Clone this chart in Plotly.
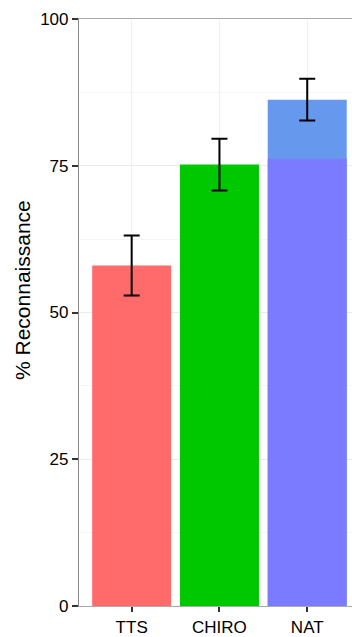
import plotly.graph_objects as go

categories = ["TTS", "CHIRO", "NAT"]
values = [58.0, 75.2, 86.25]
errors = [5.1, 4.4, 3.55]
nat_base = [None, None, 76.2]
bar_colors = ["#FF6B6B", "#00C800", "#6699EE"]
y_ticks = [0, 25, 50, 75, 100]
y_title = "% Reconnaissance"

W, H = 352, 637
ML, MR, MT, MB = 79, 0, 19, 31

fig = go.Figure()
fig.add_trace(go.Bar(
    x=categories, y=values, width=0.9,
    marker=dict(color=bar_colors, line=dict(width=0)),
    error_y=dict(type="data", array=errors, visible=True,
                 color="black", thickness=2, width=8),
    showlegend=False,
))
fig.add_trace(go.Bar(
    x=categories, y=nat_base, width=0.9,
    marker=dict(color="#7B7BFF", line=dict(width=0)),
    showlegend=False,
))

fig.update_layout(
    width=W, height=H,
    margin=dict(l=ML, r=MR, t=MT, b=MB, autoexpand=False),
    barmode="overlay",
    plot_bgcolor="white", paper_bgcolor="white",
    font=dict(family="Liberation Sans, Arial, sans-serif", color="black"),
    annotations=[dict(
        text=y_title, textangle=-90, showarrow=False,
        xref="paper", yref="paper",
        x=(22 - ML) / (W - ML - MR), y=(606 - 290) / (606 - MT),
        xanchor="center", yanchor="middle",
        font=dict(size=21, color="black"),
    )],
)
fig.update_xaxes(
    range=[-0.6, 2.51], showgrid=True, gridcolor="#F0F0F0", gridwidth=1,
    showline=True, linecolor="#AAAAAA", linewidth=1.2, mirror=True,
    ticks="outside", ticklen=5, tickcolor="#333333", tickwidth=1.5,
    tickfont=dict(size=17, color="black"),
)
fig.update_yaxes(
    range=[0, 100], tickvals=y_ticks, showgrid=True,
    gridcolor="#EBEBEB", gridwidth=1, zeroline=False,
    minor=dict(dtick=12.5, showgrid=True, gridcolor="#F5F5F5", gridwidth=1),
    showline=True, linecolor="#888888", linewidth=1.2,
    ticks="outside", ticklen=6, tickcolor="#333333", tickwidth=1.5,
    tickfont=dict(size=17, color="black"),
)

fig.write_html("out.html",
               config={"displayModeBar": False},
               post_script="document.body.style.margin='0';document.body.style.overflow='hidden';")
